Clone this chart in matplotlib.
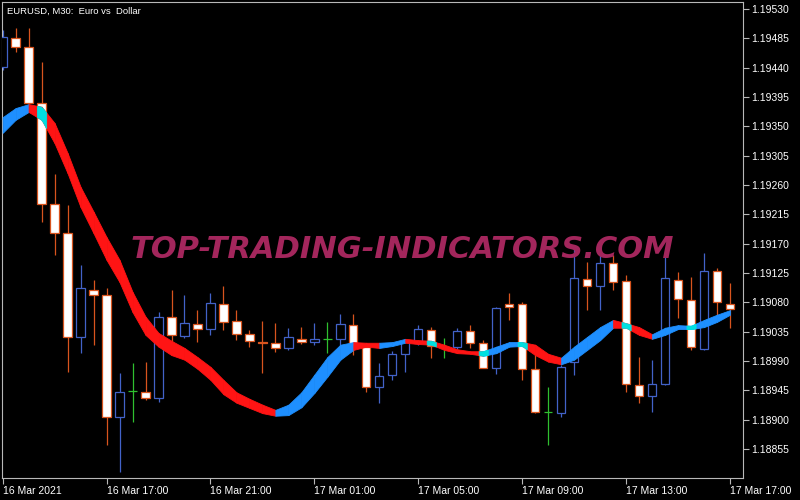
import numpy as np
import matplotlib
matplotlib.use("Agg")
import matplotlib.pyplot as plt

# EURUSD M30 candles, 16 Mar 13:00 .. 17 Mar 17:00
opens = [1.19441, 1.19486, 1.19472, 1.19386, 1.19231, 1.19186, 1.19027, 1.19099, 1.19091, 1.18904,
         1.18944, 1.18942, 1.18933, 1.19058, 1.19028, 1.19047, 1.19039, 1.19078, 1.19051, 1.19031,
         1.19019, 1.19018, 1.19010, 1.19024, 1.19019, 1.19024, 1.19024, 1.19045, 1.19012, 1.18950,
         1.18969, 1.19001, 1.19018, 1.19038, 1.19012, 1.19012, 1.19036, 1.19018, 1.18979, 1.19078,
         1.19078, 1.18978, 1.18912, 1.18910, 1.18989, 1.19116, 1.19105, 1.19140, 1.19113, 1.18953,
         1.18936, 1.18955, 1.19114, 1.19084, 1.19008, 1.19128, 1.19078]
highs = [1.19498, 1.19501, 1.19501, 1.19449, 1.19277, 1.19229, 1.19137, 1.19114, 1.19102, 1.18972,
         1.18987, 1.18989, 1.19065, 1.19099, 1.19091, 1.19068, 1.19094, 1.19105, 1.19068, 1.19038,
         1.19051, 1.19048, 1.19041, 1.19042, 1.19048, 1.19050, 1.19062, 1.19062, 1.19018, 1.18987,
         1.19005, 1.19024, 1.19045, 1.19042, 1.19025, 1.19041, 1.19045, 1.19022, 1.19073, 1.19094,
         1.19081, 1.19004, 1.18950, 1.18984, 1.19168, 1.19142, 1.19153, 1.19153, 1.19122, 1.18996,
         1.18992, 1.19156, 1.19127, 1.19119, 1.19156, 1.19133, 1.19110]
lows = [1.19436, 1.19464, 1.19384, 1.19203, 1.19153, 1.18973, 1.19002, 1.19015, 1.18861, 1.18820,
        1.18896, 1.18930, 1.18927, 1.19015, 1.19025, 1.19019, 1.19030, 1.19038, 1.19022, 1.19012,
        1.18972, 1.19004, 1.19007, 1.19016, 1.19015, 1.19002, 1.19010, 1.18999, 1.18942, 1.18926,
        1.18961, 1.18973, 1.19015, 1.18995, 1.18995, 1.19008, 1.19010, 1.18979, 1.18970, 1.19053,
        1.18961, 1.18910, 1.18861, 1.18904, 1.18969, 1.19068, 1.19068, 1.19099, 1.18942, 1.18926,
        1.18912, 1.18953, 1.19056, 1.19007, 1.19007, 1.19061, 1.19041]
closes = [1.19487, 1.19472, 1.19386, 1.19231, 1.19186, 1.19027, 1.19102, 1.19091, 1.18904, 1.18942,
          1.18944, 1.18933, 1.19058, 1.19030, 1.19048, 1.19039, 1.19079, 1.19050, 1.19031, 1.19021,
          1.19018, 1.19010, 1.19027, 1.19019, 1.19024, 1.19024, 1.19047, 1.19013, 1.18950, 1.18967,
          1.19001, 1.19019, 1.19039, 1.19013, 1.19012, 1.19036, 1.19018, 1.18979, 1.19071, 1.19073,
          1.18978, 1.18912, 1.18912, 1.18981, 1.19117, 1.19105, 1.19140, 1.19111, 1.18955, 1.18936,
          1.18955, 1.19117, 1.19085, 1.19012, 1.19128, 1.19081, 1.19070]

# moving average band (upper / lower edge)
ma_hi = [1.19364, 1.19378, 1.19384, 1.19380, 1.19355, 1.19309, 1.19257, 1.19219, 1.19180, 1.19145,
         1.19096, 1.19058, 1.19033, 1.19021, 1.19010, 1.18996, 1.18981, 1.18961, 1.18942, 1.18932,
         1.18923, 1.18915, 1.18923, 1.18942, 1.18969, 1.18996, 1.19015, 1.19019, 1.19018, 1.19018,
         1.19019, 1.19024, 1.19022, 1.19021, 1.19015, 1.19008, 1.19005, 1.19005, 1.19012, 1.19019,
         1.19019, 1.19015, 1.19001, 1.18995, 1.19012, 1.19027, 1.19042, 1.19053, 1.19048, 1.19042,
         1.19031, 1.19041, 1.19045, 1.19044, 1.19053, 1.19061, 1.19068]
ma_lo = [1.19340, 1.19360, 1.19372, 1.19360, 1.19324, 1.19278, 1.19226, 1.19186, 1.19145, 1.19111,
         1.19065, 1.19030, 1.19012, 1.18999, 1.18992, 1.18978, 1.18961, 1.18939, 1.18926, 1.18918,
         1.18910, 1.18906, 1.18907, 1.18919, 1.18941, 1.18966, 1.18992, 1.19007, 1.19012, 1.19010,
         1.19013, 1.19018, 1.19016, 1.19015, 1.19007, 1.19002, 1.19001, 1.18998, 1.19002, 1.19012,
         1.19013, 1.18999, 1.18989, 1.18985, 1.18992, 1.19007, 1.19022, 1.19041, 1.19041, 1.19030,
         1.19024, 1.19030, 1.19039, 1.19039, 1.19042, 1.19050, 1.19061]
# segment colour between bar k and k+1: u = up (blue), d = down (red)
ma_dir = ("uu" + "ddddddddddddddddddd" + "uuuuuu" + "dd" + "uu" + "dddddd"
          + "uuu" + "ddd" + "uuuu" + "ddd" + "uuuuuu")
ma_turns = [3, 33, 37, 40, 48, 53]

price_ticks = [1.19530, 1.19485, 1.19440, 1.19395, 1.19350, 1.19305, 1.19260, 1.19215,
               1.19170, 1.19125, 1.19080, 1.19035, 1.18990, 1.18945, 1.18900, 1.18855]
time_ticks = [0, 8, 16, 24, 32, 40, 48, 56]
time_labels = ["16 Mar 2021", "16 Mar 17:00", "16 Mar 21:00", "17 Mar 01:00",
               "17 Mar 05:00", "17 Mar 09:00", "17 Mar 13:00", "17 Mar 17:00"]

BEAR = "#d8541e"
BULL = "#4262c8"
DOJI = "#2fbf2f"
UP = "#1e8fff"
DOWN = "#ff1414"
TURN = "#00e0e0"
GRID = "#b8b8b8"

fig = plt.figure(figsize=(8, 5), dpi=100, facecolor="black")
ax = fig.add_axes([2 / 800, 22 / 500, 741 / 800, 476 / 500])
ax.set_facecolor("black")

x = np.arange(len(opens))
o = np.array(opens)
c = np.array(closes)
for i in x:
    if o[i] == c[i]:
        col, face = DOJI, "black"
    elif c[i] > o[i]:
        col, face = BULL, "black"
    else:
        col, face = BEAR, "white"
    top, bot = max(o[i], c[i]), min(o[i], c[i])
    ax.vlines(i, bot, lows[i], color=col, lw=0.9, zorder=2)
    ax.vlines(i, highs[i], top, color=col, lw=0.9, zorder=2)
    if o[i] == c[i]:
        ax.hlines(o[i], i - 0.32, i + 0.32, color=col, lw=0.9, zorder=2)
    else:
        ax.bar(i, top - bot, bottom=bot, width=0.64, facecolor=face,
               edgecolor=col, linewidth=0.9, zorder=3)

hi = np.array(ma_hi)
lo = np.array(ma_lo)
for k in range(len(x) - 1):
    col = UP if ma_dir[k] == "u" else DOWN
    ax.fill_between(x[k:k + 2], lo[k:k + 2], hi[k:k + 2], color=col,
                    lw=0.6, edgecolor=col, zorder=4)
for t in ma_turns:
    xs = np.linspace(t - 0.35, t + 0.35, 6)
    ax.fill_between(xs, np.interp(xs, x, lo), np.interp(xs, x, hi), color=TURN,
                    lw=0.6, edgecolor=TURN, zorder=5)

ax.set_xlim(-0.05, 57.0)
ax.set_ylim(1.188105, 1.195407)

ax.yaxis.tick_right()
ax.set_yticks(price_ticks)
ax.set_yticklabels(["%.5f" % p for p in price_ticks])
ax.set_xticks(time_ticks)
ax.set_xticklabels(time_labels, ha="left")
ax.tick_params(axis="y", colors=GRID, labelcolor="white", length=4, width=0.8,
               pad=2, labelsize=7.5, labelfontfamily="Liberation Sans")
ax.tick_params(axis="x", colors=GRID, labelcolor="white", length=4, width=0.8,
               pad=1.5, labelsize=7.5, labelfontfamily="Liberation Sans")
for s in ax.spines.values():
    s.set_color(GRID)
    s.set_linewidth(0.8)

ax.text(5 / 741, 1 - 9 / 476, "EURUSD, M30:  Euro vs  Dollar", transform=ax.transAxes,
        color="white", fontsize=6.8, family="Liberation Sans", va="center", ha="left")
ax.text(0.54, 1 - 247 / 476, "TOP-TRADING-INDICATORS.COM", transform=ax.transAxes,
        color="#a3265c", fontsize=22, fontweight="heavy", style="oblique",
        ha="center", va="center", zorder=6)

fig.savefig("out.png", dpi=100, facecolor="black")
